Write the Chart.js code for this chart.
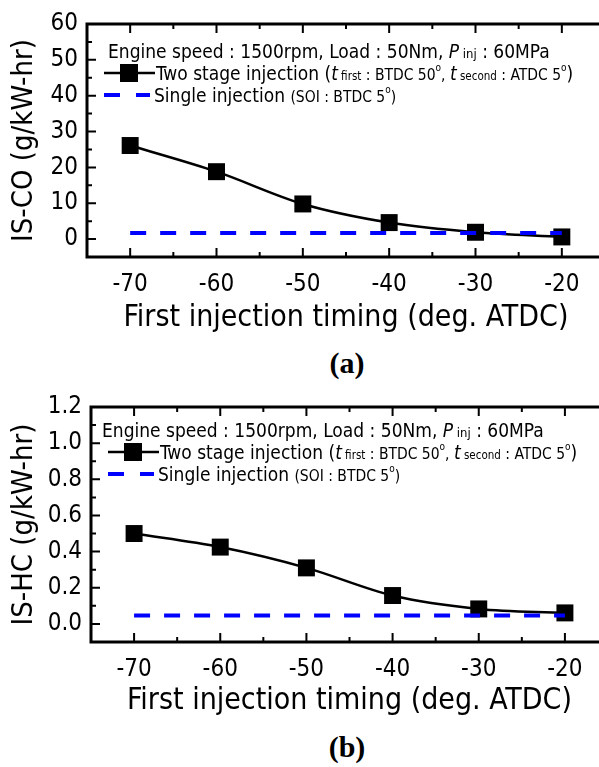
<!DOCTYPE html>
<html>
<head>
<meta charset="utf-8">
<script src="https://cdn.jsdelivr.net/npm/chart.js@4.4.0/dist/chart.umd.min.js"></script>
<style>
  body { margin: 0; background: #fff; width: 599px; height: 767px; overflow: hidden; position: relative; }
  canvas { position: absolute; left: 0; }
  .cap { position: absolute; transform: translate(-50%, -50%); font: bold 30px "Liberation Serif", "Times New Roman", serif; color: #000; }
</style>
</head>
<body>
<canvas id="chart-co" width="640" height="340" style="top:0"></canvas>
<canvas id="chart-hc" width="640" height="340" style="top:383px"></canvas>
<div class="cap" style="left:347px;top:363px">(a)</div>
<div class="cap" style="left:347px;top:747px">(b)</div>
<script>
// data
const timing = [-70, -60, -50, -40, -30, -20];
const coTwoStage = [26.1, 18.8, 9.8, 4.6, 1.9, 0.6];
const coSingle = [1.7, 1.7, 1.7, 1.7, 1.7, 1.7];
const hcTwoStage = [0.50, 0.425, 0.31, 0.157, 0.083, 0.061];
const hcSingle = [0.046, 0.046, 0.046, 0.046, 0.046, 0.046];
const xTickLabels = [-70, -60, -50, -40, -30, -20];
const coTicks = [0, 10, 20, 30, 40, 50, 60];
const hcTicks = [0, 0.2, 0.4, 0.6, 0.8, 1.0, 1.2];
const xTitle = "First injection timing (deg. ATDC)";

const SANS = '"DejaVu Sans Condensed", "DejaVu Sans", sans-serif';
const BLUE = "#0000ff";
const W = 640, H = 340;

function richText(ctx, x, y, parts) {
    // parts: [text, size, italic, dy]
    ctx.textBaseline = "alphabetic";
    ctx.textAlign = "left";
    for (const [t, size, it, dy] of parts) {
        ctx.font = `${it ? "italic " : ""}${size}px ${SANS}`;
        ctx.fillText(t, x, y + (dy || 0));
        x += ctx.measureText(t).width;
    }
}

function framePlugin(o) {
    return {
        id: "frame",
        afterDatasetsDraw(chart) {
            const { ctx, chartArea: a, scales: { x, y } } = chart;
            ctx.save();
            ctx.strokeStyle = "#000";
            ctx.lineWidth = 2;
            ctx.beginPath();
            // x ticks every 5, inward, bottom and top
            for (let v = -75; v <= -15; v += 5) {
                const px = x.getPixelForValue(v);
                const len = v % 10 === 0 ? 9 : 5;
                ctx.moveTo(px, a.bottom); ctx.lineTo(px, a.bottom - len);
                ctx.moveTo(px, a.top); ctx.lineTo(px, a.top + len);
            }
            for (let i = 0; i <= o.nMinor; i++) {
                const v = o.yMin + i * o.yStep / 2;
                const py = y.getPixelForValue(v);
                const len = i % 2 === 1 ? 9 : 5;
                ctx.moveTo(a.left, py); ctx.lineTo(a.left + len, py);
            }
            ctx.stroke();
            ctx.lineWidth = 3;
            ctx.strokeRect(a.left, a.top, a.right - a.left, a.bottom - a.top);

            // legend / annotation
            const lx = a.left, ty = a.top;
            ctx.fillStyle = "#000";
            richText(ctx, lx + o.l1x, ty + o.l1y, [
                ["Engine speed : 1500rpm, Load : 50Nm, ", 19], ["P", 19, true], [" inj", 13], [" : 60MPa", 19]
            ]);
            // two stage symbol
            const sy = ty + o.l1y + 22 - 7;
            ctx.lineWidth = 2.5;
            ctx.beginPath(); ctx.moveTo(lx + o.symX, sy); ctx.lineTo(lx + o.symX + 51, sy); ctx.stroke();
            ctx.fillRect(lx + o.symX + 25 - 9, sy - 9, 18, 18);
            richText(ctx, lx + o.symX + 52, ty + o.l1y + 22, [
                ["Two stage injection ", 19], ["(", 19], ["t", 19, true], [" first", 11.5], [" : BTDC 50", 15.5], ["o", 10, false, -9],
                [", ", 15.5], ["t", 19, true], [" second", 11.5], [" : ATDC 5", 15.5], ["o", 10, false, -9], [")", 19]
            ]);
            // single symbol
            const sy2 = sy + 22;
            ctx.strokeStyle = BLUE;
            ctx.lineWidth = 4;
            ctx.beginPath();
            ctx.moveTo(lx + o.symX, sy2); ctx.lineTo(lx + o.symX + 16, sy2);
            ctx.moveTo(lx + o.symX + 32, sy2); ctx.lineTo(lx + o.symX + 46, sy2);
            ctx.stroke();
            richText(ctx, lx + o.symX + 50, ty + o.l1y + 44, [
                ["Single injection ", 19], ["(SOI : BTDC 5", 15.5], ["o", 10, false, -9], [")", 15.5]
            ]);
            ctx.restore();
        }
    };
}

function makeChart(id, o) {
    return new Chart(document.getElementById(id), {
        type: "line",
        data: {
            datasets: [
                {
                    label: "Single injection", data: timing.map((t, i) => ({ x: t, y: o.single[i] })),
                    borderColor: BLUE, borderWidth: 4, borderDash: [16, 14], pointRadius: 0, tension: 0
                },
                {
                    label: "Two stage injection", data: timing.map((t, i) => ({ x: t, y: o.two[i] })),
                    borderColor: "#000", borderWidth: 2.5, cubicInterpolationMode: "monotone",
                    pointStyle: "rect", pointRadius: 12, pointBackgroundColor: "#000", pointBorderWidth: 0
                }
            ]
        },
        options: {
            responsive: false, animation: false, events: [],
            layout: { padding: { top: 24, right: W - o.right, left: 0, bottom: 0 } },
            plugins: { legend: { display: false }, tooltip: { enabled: false } },
            scales: {
                x: {
                    type: "linear", min: -75, max: -15,
                    grid: { display: false, drawTicks: false }, border: { display: false },
                    afterBuildTicks: s => { s.ticks = xTickLabels.map(v => ({ value: v })); },
                    afterFit: s => { s.height = H - o.bottom; },
                    ticks: { padding: 13, maxRotation: 0, autoSkip: false, color: "#000", font: { family: SANS, size: 24 } },
                    title: { display: true, text: xTitle, color: "#000", font: { family: SANS, size: 30 }, padding: { top: 0, bottom: 4 } }
                },
                y: {
                    type: "linear", min: o.yMin, max: o.yMax,
                    grid: { display: false, drawTicks: false }, border: { display: false },
                    afterBuildTicks: s => { s.ticks = o.ticks.map(v => ({ value: v })); },
                    afterFit: s => { s.width = o.left; },
                    ticks: { padding: 9, color: "#000", font: { family: SANS, size: 24 }, callback: o.fmt },
                    title: { display: true, text: o.yTitle, color: "#000", font: { family: SANS, size: 29 }, padding: { top: 7, bottom: 0 } }
                }
            }
        },
        plugins: [framePlugin(o)]
    });
}

makeChart("chart-co", {
    two: coTwoStage, single: coSingle, ticks: coTicks, yMin: -5, yMax: 60, yStep: 10, nMinor: 13,
    yTitle: "IS-CO (g/kW-hr)", fmt: v => v, left: 87, right: 605, bottom: 257,
    l1x: 21, l1y: 34, symX: 17
});
makeChart("chart-hc", {
    two: hcTwoStage, single: hcSingle, ticks: hcTicks, yMin: -0.1, yMax: 1.2, yStep: 0.2, nMinor: 13,
    yTitle: "IS-HC (g/kW-hr)", fmt: v => v.toFixed(1), left: 91, right: 608, bottom: 259,
    l1x: 11, l1y: 30, symX: 17
});
</script>
</body>
</html>
